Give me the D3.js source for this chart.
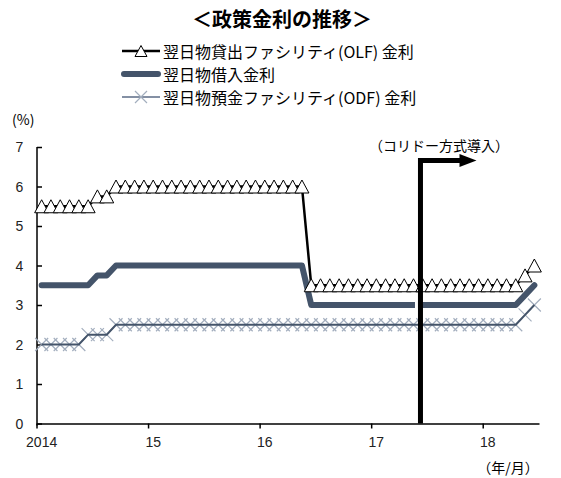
<!DOCTYPE html>
<html><head><meta charset="utf-8">
<script src="https://cdn.jsdelivr.net/npm/d3@7"></script>
<style>
html,body{margin:0;padding:0;background:#fff;}
svg{display:block;}
.jp{font-family:"Noto Sans CJK JP","Noto Sans",sans-serif;}
.num{font-family:"Liberation Sans",Arial,sans-serif;}
</style></head>
<body>
<script>
// ---- data (monthly, Jan 2014 - Jun 2018) ----
const months = d3.timeMonth.range(new Date(2014,0,1), new Date(2018,6,1)).map(d3.timeFormat("%Y-%m"));
const olf = [5.5,5.5,5.5,5.5,5.5,5.5, 5.75,5.75,
  6,6,6,6,6,6,6,6,6,6,6,6,6,6,6,6,6,6,6,6,6,
  3.5,3.5,3.5,3.5,3.5,3.5,3.5,3.5,3.5,3.5,3.5,3.5,3.5,3.5,3.5,3.5,3.5,3.5,3.5,3.5,3.5,3.5,3.5,
  3.75,4.0];
const borrow = [3.5,3.5,3.5,3.5,3.5,3.5, 3.75,3.75,
  4,4,4,4,4,4,4,4,4,4,4,4,4,4,4,4,4,4,4,4,4,
  3,3,3,3,3,3,3,3,3,3,3,3,3,3,3,3,3,3,3,3,3,3,3,
  3.25,3.5];
const odf = [2,2,2,2,2, 2.25,2.25,2.25,
  2.5,2.5,2.5,2.5,2.5,2.5,2.5,2.5,2.5,2.5,2.5,2.5,2.5,2.5,2.5,2.5,2.5,2.5,2.5,2.5,2.5,2.5,2.5,2.5,2.5,2.5,2.5,2.5,2.5,2.5,2.5,2.5,2.5,2.5,2.5,2.5,2.5,2.5,2.5,2.5,2.5,2.5,2.5,2.5,
  2.75,3.0];
const seriesNames = ["翌日物貸出ファシリティ(OLF) 金利","翌日物借入金利","翌日物預金ファシリティ(ODF) 金利"];
const yTicks = [0,1,2,3,4,5,6,7];
const xTickMonths = ["2014-01","2015-01","2016-01","2017-01","2018-01"];
const xTickLabels = ["2014","15","16","17","18"];
const corridorMonth = "2017-06";
const corridorLabel = "（コリドー方式導入）";
const title = "＜政策金利の推移＞";

// ---- layout ----
const W = 561, H = 478;
const svg = d3.select("body").append("svg").attr("width",W).attr("height",H);
const x = d3.scaleBand().domain(months).range([37,539]).paddingInner(0).paddingOuter(0);
const bw = x.bandwidth();
const cx = m => x(m) + bw/2;
const y = d3.scaleLinear().domain([0,7]).range([423.5,147]);

const dark = "#44546a", light = "#a3aebe";

// title
svg.append("text").attr("class","jp").attr("x",282).attr("y",18).attr("text-anchor","middle")
  .attr("dominant-baseline","central").attr("font-size",20).attr("font-weight","bold").attr("fill","#000").text(title);

// legend
const lg = svg.append("g");
const ly = [51,74,97];
lg.append("line").attr("x1",122).attr("x2",160).attr("y1",ly[0]).attr("y2",ly[0]).attr("stroke","#000").attr("stroke-width",2.5);
lg.append("path").attr("d",`M${141-6},${ly[0]+5.5}L141,${ly[0]-5.5}L${141+6},${ly[0]+5.5}Z`).attr("fill","#fff").attr("stroke","#000").attr("stroke-width",1);
lg.append("line").attr("x1",124).attr("x2",158).attr("y1",ly[1]).attr("y2",ly[1]).attr("stroke",dark).attr("stroke-width",6).attr("stroke-linecap","round");
lg.append("line").attr("x1",122).attr("x2",160).attr("y1",ly[2]).attr("y2",ly[2]).attr("stroke","#5b6b86").attr("stroke-width",1.5);
lg.append("path").attr("d",`M${141-6},${ly[2]-6}L${141+6},${ly[2]+6}M${141-6},${ly[2]+6}L${141+6},${ly[2]-6}`).attr("stroke",light).attr("stroke-width",1.2);
seriesNames.forEach((n,i)=>{
  lg.append("text").attr("class","jp").attr("x",163).attr("y",ly[i]).attr("dominant-baseline","central")
    .attr("font-size",16).attr("fill","#000").text(n);
});

// unit labels
svg.append("text").attr("class","jp").attr("x",12).attr("y",119).attr("dominant-baseline","central").attr("font-size",14).text("(%)");
svg.append("text").attr("class","jp").attr("x",508).attr("y",467).attr("text-anchor","middle").attr("dominant-baseline","central").attr("font-size",14).text("（年/月）");

// axes
const axY = svg.append("g").attr("transform","translate(37,0)")
  .call(d3.axisRight(y).tickValues(yTicks).tickSize(5).tickFormat(""));
axY.select(".domain").attr("d",`M0,${y(7)}V${y(0)+2}`).attr("stroke","#000").attr("stroke-width",1.5);
axY.selectAll(".tick line").attr("stroke","#000").attr("stroke-width",1.5);
svg.selectAll(".ylab").data(yTicks).enter().append("text").attr("class","num")
  .attr("x",19.5).attr("y",d=>y(d)).attr("text-anchor","middle").attr("dominant-baseline","central")
  .attr("font-size",14).attr("fill","#222").text(d=>d);

const axX = svg.append("g").attr("transform",`translate(0,${y(0)})`)
  .call(d3.axisBottom(d3.scaleLinear().domain([0,1]).range([37,539])).tickValues([]).tickSizeOuter(0));
axX.select(".domain").attr("stroke","#000").attr("stroke-width",1.5);
xTickMonths.forEach((m,i)=>{
  svg.append("line").attr("x1",x(m)).attr("x2",x(m)).attr("y1",y(0)).attr("y2",y(0)+5).attr("stroke","#000").attr("stroke-width",1.5);
  svg.append("text").attr("class","num").attr("x",cx(m)).attr("y",442).attr("text-anchor","middle")
    .attr("dominant-baseline","central").attr("font-size",14).attr("fill","#222").text(xTickLabels[i]);
});

const line = d3.line().x((d,i)=>cx(months[i])).y(d=>y(d));

// ODF
svg.append("g").selectAll("path").data(odf).enter().append("path")
  .attr("d",(d,i)=>{const px=cx(months[i]),py=y(d);return `M${px-6.5},${py-6.5}L${px+6.5},${py+6.5}M${px-6.5},${py+6.5}L${px+6.5},${py-6.5}`;})
  .attr("stroke",light).attr("stroke-width",1.2).attr("fill","none");
svg.append("path").datum(odf).attr("d",line).attr("fill","none").attr("stroke",dark).attr("stroke-width",2);

// borrowing
svg.append("path").datum(borrow).attr("d",line).attr("fill","none").attr("stroke",dark).attr("stroke-width",6)
  .attr("stroke-linecap","round").attr("stroke-linejoin","round");

// OLF
svg.append("path").datum(olf).attr("d",line).attr("fill","none").attr("stroke","#000").attr("stroke-width",2.5);
svg.append("g").selectAll("path").data(olf).enter().append("path")
  .attr("d",(d,i)=>{const px=cx(months[i]),py=y(d);return `M${px-7},${py+6.5}L${px},${py-6.5}L${px+7},${py+6.5}Z`;})
  .attr("fill","#fff").attr("stroke","#000").attr("stroke-width",1);

// corridor annotation
const ax = x(corridorMonth) + bw*0.25;
const ay = y(6.66);
// small white gap left of the vertical bar on the borrowing line
svg.append("rect").attr("x",ax-5.5).attr("y",y(3)-3.5).attr("width",3).attr("height",7).attr("fill","#fff");
svg.append("path").attr("d",`M${ax},${y(0)}V${ay}H${ax+42}`).attr("fill","none").attr("stroke","#000")
  .attr("stroke-width",5).attr("stroke-linejoin","miter");
svg.append("path").attr("d",`M${ax+39},${ay-6.5}L${ax+56},${ay}L${ax+39},${ay+6.5}Z`).attr("fill","#000");
svg.append("text").attr("class","jp").attr("x",439).attr("y",145).attr("text-anchor","middle")
  .attr("dominant-baseline","central").attr("font-size",14).attr("fill","#000").text(corridorLabel);
</script>
</body></html>
